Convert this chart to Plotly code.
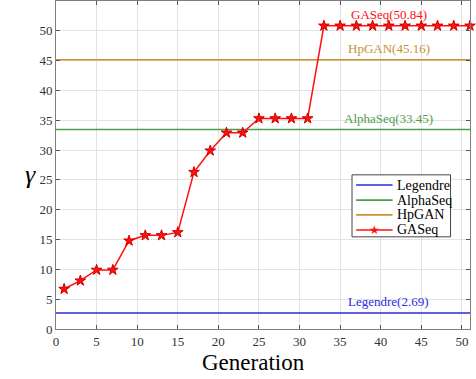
import plotly.graph_objects as go

# GASeq fitness per generation (odd generations)
generations = [1, 3, 5, 7, 9, 11, 13, 15, 17, 19, 21, 23, 25, 27, 29, 31,
               33, 35, 37, 39, 41, 43, 45, 47, 49, 51]
gaseq = [6.7, 8.1, 9.9, 9.9, 14.8, 15.7, 15.7, 16.2, 26.3, 29.9, 32.9, 32.9,
         35.3, 35.3, 35.3, 35.3,
         50.84, 50.84, 50.84, 50.84, 50.84, 50.84, 50.84, 50.84, 50.84, 50.84]

# Baseline values
baseline_names = ["Legendre", "AlphaSeq", "HpGAN"]
baseline_values = [2.69, 33.45, 45.16]
baseline_colors = ["#2a2ae0", "#4e9e4e", "#c8912e"]
gaseq_color = "#ff1010"

x_ticks = [0, 5, 10, 15, 20, 25, 30, 35, 40, 45, 50]
y_ticks = [0, 5, 10, 15, 20, 25, 30, 35, 40, 45, 50, 55]
x_span = [0, 51]
serif = "Liberation Serif"

fig = go.Figure()

for name, val, col in zip(baseline_names, baseline_values, baseline_colors):
    fig.add_trace(go.Scatter(
        x=x_span, y=[val, val], mode="lines", name=name,
        line=dict(color=col, width=1.6)))

fig.add_trace(go.Scatter(
    x=generations, y=gaseq, mode="lines+markers", name="GASeq",
    line=dict(color=gaseq_color, width=1.5),
    marker=dict(symbol="star", size=8, color=gaseq_color,
                line=dict(color="#d00000", width=1)),
    cliponaxis=False))

# Value labels above each reference level
labels = [("GASeq", gaseq[-1], gaseq_color)] + list(
    zip(baseline_names, baseline_values, baseline_colors))
for name, val, col in labels:
    fig.add_annotation(x=41, y=val, text=f"{name}({val:.2f})",
                       showarrow=False, yanchor="middle", yshift=11,
                       font=dict(family=serif, size=13, color=col))

# Compact boxed legend in the lower right of the axes
legend_names = baseline_names + ["GASeq"]
legend_colors = baseline_colors + [gaseq_color]
box_x0, box_x1, box_y0, box_y1 = 0.715, 0.953, 0.281, 0.47
row_y = [0.439, 0.393, 0.348, 0.302]
fig.add_shape(type="rect", xref="paper", yref="paper",
              x0=box_x0, x1=box_x1, y0=box_y0, y1=box_y1,
              line=dict(color="#444444", width=1), fillcolor="white",
              layer="above")
for name, col, ry in zip(legend_names, legend_colors, row_y):
    fig.add_shape(type="line", xref="paper", yref="paper",
                  x0=0.725, x1=0.813, y0=ry, y1=ry,
                  line=dict(color=col, width=1.6), layer="above")
    fig.add_annotation(xref="paper", yref="paper", x=0.82, y=ry,
                       xanchor="left", yanchor="middle", showarrow=False,
                       text=name, font=dict(family=serif, size=14,
                                            color="black"))
fig.add_annotation(xref="paper", yref="paper", x=0.769, y=row_y[-1],
                   xanchor="center", yanchor="middle", showarrow=False,
                   text="★", font=dict(family="DejaVu Sans", size=12,
                                       color=gaseq_color))

# Axis titles
fig.add_annotation(xref="paper", yref="paper", x=-0.08, y=0.47,
                   text="<i>γ</i>", showarrow=False,
                   font=dict(family=serif, size=26, color="black"))
fig.add_annotation(xref="paper", yref="paper", x=0.477, y=-0.058,
                   xanchor="center", yanchor="top",
                   text="Generation", showarrow=False,
                   font=dict(family=serif, size=23, color="black"))

axis_common = dict(showline=True, linecolor="#7f7f7f", linewidth=1,
                   mirror="ticks", ticks="inside", ticklen=4,
                   tickcolor="#555555", showgrid=True,
                   gridcolor="#e3e3e3", gridwidth=1, zeroline=False,
                   tickfont=dict(family=serif, size=13, color="#333333"))

fig.update_layout(
    width=476, height=379,
    margin=dict(l=56, r=6, t=1, b=50),
    font=dict(family=serif, size=13, color="#333333"),
    paper_bgcolor="white", plot_bgcolor="white",
    showlegend=False,
    xaxis=dict(range=x_span, tickmode="array", tickvals=x_ticks,
               **axis_common),
    yaxis=dict(range=[0, 55], tickmode="array", tickvals=y_ticks,
               **axis_common),
)

fig.write_html("out.html")
